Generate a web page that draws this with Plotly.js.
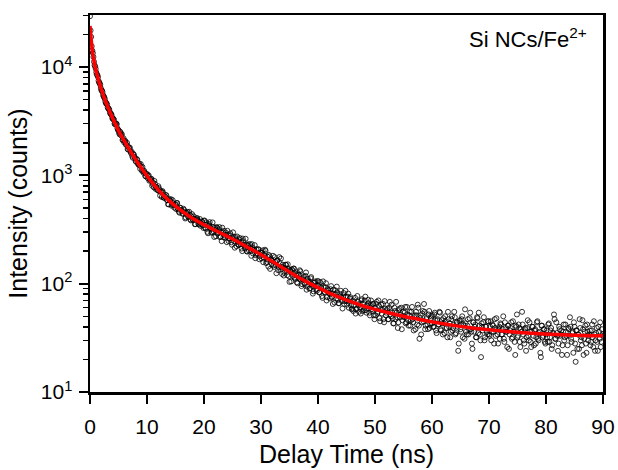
<!DOCTYPE html>
<html>
<head>
<meta charset="utf-8">
<script src="https://cdn.plot.ly/plotly-3.0.1.min.js"></script>
<style>html,body{margin:0;padding:0;background:#fff;}#chart{width:618px;height:470px;}</style>
</head>
<body>
<div id="chart"></div>
<script>
// Decay data: counts in 0.1 ns time channels.
// countsEven: channels at 0.0, 0.2, 0.4 ... 90.0 ns
// countsOdd:  channels at 0.1, 0.3, 0.5 ... 89.9 ns
const channelWidth = 0.2;
const evenStart = 0;
const oddStart = 0.1;
const countsEven = [
  // 0 - 4 ns
  29500, 19000, 14200, 12400, 10400, 9650, 8550, 8100, 7200, 6850, 6100,
  5900, 5330, 5080, 4620, 4510, 4150, 4010, 3700, 3600, 3310,
  // 4.2 - 10 ns
  3264, 2959, 3016, 2723, 2626, 2390, 2451, 2394, 2136, 2018,
  2080, 1921, 1748, 1823, 1802, 1607, 1517, 1581, 1489, 1358,
  1418, 1287, 1293, 1150, 1193, 1198, 1057, 1066, 979, 1030,
  // 10.2 - 20 ns
  989, 893, 912, 929, 833, 776, 835, 781, 734, 794,
  709, 712, 632, 695, 619, 636, 653, 590, 541, 592,
  603, 536, 553, 504, 541, 556, 495, 462, 505, 477,
  445, 492, 457, 409, 450, 417, 461, 392, 418, 396,
  419, 354, 392, 404, 358, 372, 342, 377, 344, 382,
  // 20.2 - 30 ns
  329, 369, 301, 344, 370, 319, 299, 334, 270, 313,
  334, 291, 317, 269, 298, 329, 268, 279, 297, 242,
  283, 260, 292, 241, 262, 269, 215, 256, 273, 231,
  257, 232, 211, 261, 228, 211, 230, 198, 232, 216,
  201, 232, 190, 207, 172, 208, 191, 207, 179, 192,
  // 30.2 - 40 ns
  193, 158, 183, 201, 159, 167, 184, 137, 169, 162,
  148, 176, 149, 163, 133, 176, 137, 142, 150, 119,
  139, 149, 120, 137, 104, 130, 136, 118, 138, 111,
  119, 101, 121, 133, 109, 99, 113, 101, 118, 88,
  111, 104, 91, 115, 95, 85, 102, 95, 86, 97,
  // 40.2 - 50 ns
  83, 103, 91, 74, 93, 83, 101, 75, 87, 81,
  89, 75, 65, 81, 87, 73, 83, 66, 76, 86,
  69, 76, 65, 86, 69, 76, 60, 73, 63, 59,
  56, 68, 53, 59, 68, 55, 60, 70, 56, 60,
  70, 57, 63, 71, 54, 63, 58, 65, 51, 60,
  // 50.2 - 60 ns
  65, 53, 70, 48, 58, 53, 65, 44, 59, 54,
  59, 47, 68, 50, 54, 43, 60, 47, 54, 39,
  57, 49, 60, 46, 50, 54, 43, 61, 46, 51,
  41, 55, 47, 37, 51, 55, 42, 60, 31, 51,
  44, 56, 65, 38, 47, 42, 52, 39, 48, 43,
  // 60.2 - 70 ns
  40, 52, 46, 35, 47, 42, 54, 37, 43, 48,
  35, 45, 39, 55, 40, 32, 47, 37, 42, 49,
  35, 44, 24, 45, 38, 47, 32, 41, 58, 36,
  41, 34, 48, 38, 28, 44, 36, 42, 32, 48,
  54, 34, 21, 40, 44, 30, 40, 36, 45, 34,
  // 70.2 - 80 ns
  40, 30, 42, 36, 47, 33, 38, 28, 40, 43,
  34, 38, 31, 44, 36, 26, 41, 34, 39, 31,
  45, 36, 22, 40, 32, 42, 29, 38, 55, 34,
  28, 39, 32, 46, 30, 36, 26, 40, 33, 37,
  28, 44, 31, 35, 23, 41, 32, 38, 29, 34,
  // 80.2 - 90 ns
  32, 42, 29, 37, 25, 35, 52, 31, 44, 33,
  28, 38, 34, 22, 36, 30, 42, 33, 27, 38,
  49, 31, 35, 23, 40, 19, 37, 34, 25, 39,
  32, 46, 22, 36, 28, 42, 30, 34, 27, 37,
  32, 45, 24, 35, 29, 40, 31, 26, 38, 33
];
const countsOdd = [
  // 0.1 - 3.9 ns
  21800, 15600, 13500, 11200, 10150, 8950, 8420, 7480, 7110, 6390,
  6080, 5520, 5290, 4780, 4640, 4240, 4130, 3790, 3710, 3390,
  // 4.1 - 9.9 ns
  3341, 3000, 3005, 2966, 2622, 2469, 2532, 2330, 2119, 2194,
  2060, 1921, 1993, 1733, 1770, 1653, 1658, 1457, 1550, 1430,
  1334, 1391, 1252, 1244, 1273, 1104, 1099, 1104, 986, 1025,
  // 10.1 - 19.9 ns
  946, 1002, 908, 926, 803, 855, 888, 752, 776, 731,
  761, 650, 710, 718, 627, 637, 660, 591, 541, 604,
  581, 525, 591, 531, 541, 489, 556, 485, 452, 500,
  473, 442, 479, 400, 449, 460, 414, 433, 384, 439,
  385, 396, 355, 400, 383, 352, 395, 357, 371, 327,
  // 20.1 - 29.9 ns
  383, 323, 350, 292, 355, 331, 295, 368, 303, 328,
  274, 328, 295, 333, 273, 247, 298, 308, 266, 282,
  308, 248, 263, 279, 229, 298, 246, 269, 222, 246,
  227, 264, 242, 200, 247, 221, 260, 199, 225, 202,
  231, 181, 217, 204, 227, 183, 188, 208, 168, 195,
  // 30.1 - 39.9 ns
  171, 203, 175, 206, 155, 178, 144, 179, 166, 151,
  181, 143, 159, 125, 165, 142, 155, 171, 123, 142,
  126, 150, 132, 151, 117, 134, 105, 133, 138, 114,
  122, 103, 125, 111, 130, 95, 110, 117, 99, 127,
  94, 106, 90, 112, 99, 81, 102, 105, 89, 106,
  // 40.1 - 49.9 ns
  105, 83, 93, 77, 105, 84, 93, 70, 89, 83,
  73, 95, 76, 88, 67, 80, 94, 71, 66, 80,
  75, 59, 82, 69, 76, 64, 81, 68, 75, 58,
  70, 63, 74, 58, 77, 63, 65, 53, 72, 66,
  57, 76, 54, 62, 66, 51, 70, 56, 65, 47,
  // 50.1 - 59.9 ns
  51, 68, 55, 62, 45, 64, 57, 47, 69, 51,
  57, 47, 60, 52, 64, 48, 43, 56, 68, 49,
  44, 59, 52, 38, 55, 49, 61, 44, 52, 41,
  55, 46, 61, 44, 49, 38, 51, 64, 41, 48,
  34, 53, 45, 55, 41, 49, 38, 56, 42, 50,
  // 60.1 - 69.9 ns
  51, 40, 54, 37, 46, 42, 55, 38, 46, 34,
  43, 50, 39, 32, 47, 43, 36, 50, 39, 55,
  34, 44, 40, 28, 46, 36, 50, 42, 31, 43,
  34, 47, 38, 54, 36, 25, 44, 40, 32, 49,
  35, 41, 30, 43, 37, 49, 32, 40, 34, 45,
  // 70.1 - 79.9 ns
  33, 45, 36, 41, 28, 39, 48, 34, 38, 31,
  42, 34, 50, 29, 39, 36, 41, 25, 37, 44,
  32, 36, 29, 41, 52, 33, 39, 26, 36, 42,
  30, 38, 24, 39, 33, 44, 29, 36, 40, 27,
  38, 32, 45, 30, 36, 21, 41, 33, 38, 28,
  // 80.1 - 89.9 ns
  37, 29, 43, 32, 39, 27, 35, 47, 31, 35,
  24, 40, 33, 37, 27, 42, 32, 36, 22, 39,
  33, 40, 29, 36, 44, 28, 37, 25, 34, 47,
  30, 27, 38, 31, 41, 23, 36, 33, 37, 29,
  42, 26, 34, 30, 39, 24, 36, 44, 29, 34
];
const timesEven = countsEven.map((_, i) => +(evenStart + i * channelWidth).toFixed(1));
const timesOdd = countsOdd.map((_, i) => +(oddStart + i * channelWidth).toFixed(1));

// Fitted decay curve
const fitTime = [0, 0.25, 0.5, 0.75, 1, 1.5, 2, 2.5, 3, 3.5, 4, 5, 6, 7, 8, 9, 10, 11, 12, 13, 14, 15, 16, 18, 20, 22, 24, 26, 28, 30, 32, 34, 36, 38, 40, 42, 44, 46, 48, 50, 52, 55, 58, 61, 64, 67, 70, 73, 76, 79, 82, 85, 88, 90];
const fitIntensity = [24000, 17000, 13000, 11000, 9500, 7600, 6200, 5200, 4450, 3850, 3350, 2600, 2080, 1700, 1400, 1170, 990, 850, 735, 645, 575, 520, 472, 400, 350, 310, 275, 243, 212, 185, 160, 138, 119, 104, 92, 82, 74, 67.5, 62, 58, 54.5, 50, 46.5, 43.5, 41, 39, 37.5, 36.3, 35.3, 34.5, 33.9, 33.4, 33.1, 33];

const yTickVals = [10, 100, 1000, 10000];
const yTickText = ['10<sup>1</sup>', '10<sup>2</sup>', '10<sup>3</sup>', '10<sup>4</sup>'];
const xTickVals = [0, 10, 20, 30, 40, 50, 60, 70, 80, 90];

const font = 'Liberation Sans, Arial, sans-serif';

const traces = [
  {
    x: timesEven.concat(timesOdd), y: countsEven.concat(countsOdd),
    type: 'scatter', mode: 'markers',
    marker: {symbol: 'circle-open', size: 5, color: '#000000', line: {width: 0.8}},
    hoverinfo: 'skip', showlegend: false
  },
  {
    x: fitTime, y: fitIntensity, type: 'scatter', mode: 'lines',
    line: {color: '#ff0000', width: 3.5, shape: 'spline', smoothing: 0.8},
    showlegend: false
  }
];

const layout = {
  width: 618, height: 470,
  margin: {l: 90, r: 15, t: 15, b: 78},
  paper_bgcolor: '#ffffff', plot_bgcolor: '#ffffff',
  font: {family: font, color: '#000000', size: 21},
  xaxis: {
    range: [0, 90], tickmode: 'array', tickvals: xTickVals,
    ticks: 'outside', ticklen: 9, tickwidth: 2, tickcolor: '#000',
    ticklabelstandoff: 5,
    showline: true, linewidth: 2.5, linecolor: '#000', mirror: true,
    showgrid: false, zeroline: false,
    tickfont: {family: font, size: 21, color: '#000'},
    title: {text: 'Delay Time (ns)', font: {family: font, size: 25, color: '#000'}, standoff: 9}
  },
  yaxis: {
    type: 'log', range: [1, 4.481], tickmode: 'array', tickvals: yTickVals, ticktext: yTickText,
    ticks: 'outside', ticklen: 9, tickwidth: 2, tickcolor: '#000',
    ticklabelstandoff: 2,
    minor: {dtick: 'D1', ticks: 'outside', ticklen: 5, tickwidth: 1.5, tickcolor: '#000', showgrid: false},
    showline: true, linewidth: 2.5, linecolor: '#000', mirror: true,
    showgrid: false, zeroline: false,
    tickfont: {family: font, size: 21, color: '#000'},
    title: {text: 'Intensity (counts)', font: {family: font, size: 25, color: '#000'}, standoff: 6}
  },
  annotations: [{
    text: 'Si NCs/Fe<sup>2+</sup>', xref: 'paper', yref: 'paper', x: 1, y: 1,
    xanchor: 'right', yanchor: 'top', xshift: -14, yshift: -7, showarrow: false,
    font: {family: font, size: 22, color: '#000'}
  }]
};

Plotly.newPlot('chart', traces, layout, {displayModeBar: false, staticPlot: true});
</script>
</body>
</html>
